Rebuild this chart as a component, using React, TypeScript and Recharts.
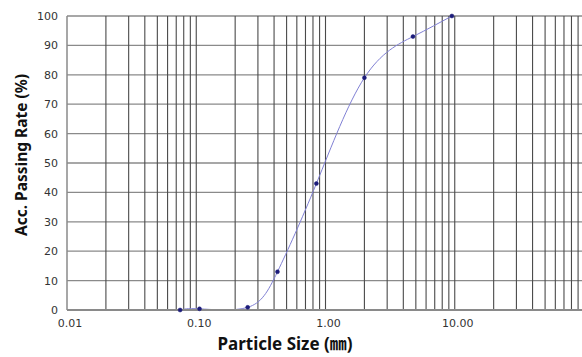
import React from 'react';
import { LineChart, Line, XAxis, YAxis, CartesianGrid, ReferenceLine } from 'recharts';

const sieveSizes = [0.075, 0.106, 0.25, 0.425, 0.85, 2.0, 4.75, 9.5];
const passingRates = [0, 0.4, 0.9, 13, 43, 79, 93, 100];
const xTicks = [0.01, 0.1, 1, 10];
const yTicks = [0, 10, 20, 30, 40, 50, 60, 70, 80, 90, 100];
const gridSizes = [
  0.02, 0.03, 0.04, 0.05, 0.06, 0.07, 0.08, 0.09,
  0.1, 0.2, 0.3, 0.4, 0.5, 0.6, 0.7, 0.8, 0.9,
  1, 2, 3, 4, 5, 6, 7, 8, 9,
  10, 20, 30, 40, 50, 60, 70, 80, 90,
];

const data = sieveSizes.map((s, i) => ({ size: s, rate: passingRates[i] }));

const tickFont = { fontSize: 11, fill: '#333', fontFamily: 'DejaVu Sans' };
const titleFont = "'Noto Sans', 'Noto Sans CJK KR', sans-serif";

export default function App() {
  return (
    <div style={{ position: 'absolute', left: 0, top: 0, width: 582, height: 357, overflow: 'hidden', background: '#fff' }}>
      <LineChart width={590} height={357} data={data} margin={{ top: 16, right: 6, left: 0, bottom: 0 }}>
        <CartesianGrid vertical={false} stroke="#8a8a8a" strokeWidth={1.3} />
        {gridSizes.map((g) => (
          <ReferenceLine key={g} x={g} stroke="#4a4a4a" strokeWidth={1.1} ifOverflow="hidden" />
        ))}
        <XAxis
          dataKey="size"
          type="number"
          scale="log"
          domain={[0.01, 100]}
          allowDataOverflow
          ticks={xTicks}
          tickFormatter={(v: number) => v.toFixed(2)}
          height={47}
          axisLine={{ stroke: '#8a8a8a', strokeWidth: 2 }}
          tickLine={false}
          tickSize={0}
          tickMargin={9}
          tick={{ ...tickFont, dx: 3 }}
        />
        <YAxis
          type="number"
          domain={[0, 100]}
          ticks={yTicks}
          width={67}
          axisLine={{ stroke: '#8a8a8a', strokeWidth: 1.5 }}
          tickLine={false}
          tickSize={0}
          tickMargin={9}
          tick={tickFont}
        />
        <Line
          dataKey="rate"
          type="natural"
          stroke="#8080d4"
          strokeWidth={1}
          dot={{ r: 2, fill: '#1c1c7a', stroke: '#1c1c7a', strokeWidth: 0.5 }}
          isAnimationActive={false}
        />
      </LineChart>
      <svg width={582} height={357} style={{ position: 'absolute', left: 0, top: 0, pointerEvents: 'none' }}>
        <text x={285} y={350} textAnchor="middle" fontSize={17} fontWeight="bold" fontFamily={titleFont} fill="#111">
          Particle Size (㎜)
        </text>
        <text transform="translate(27,155) rotate(-90)" textAnchor="middle" fontSize={15.5} fontWeight="bold" fontFamily={titleFont} fill="#111">
          Acc. Passing Rate (%)
        </text>
      </svg>
    </div>
  );
}
